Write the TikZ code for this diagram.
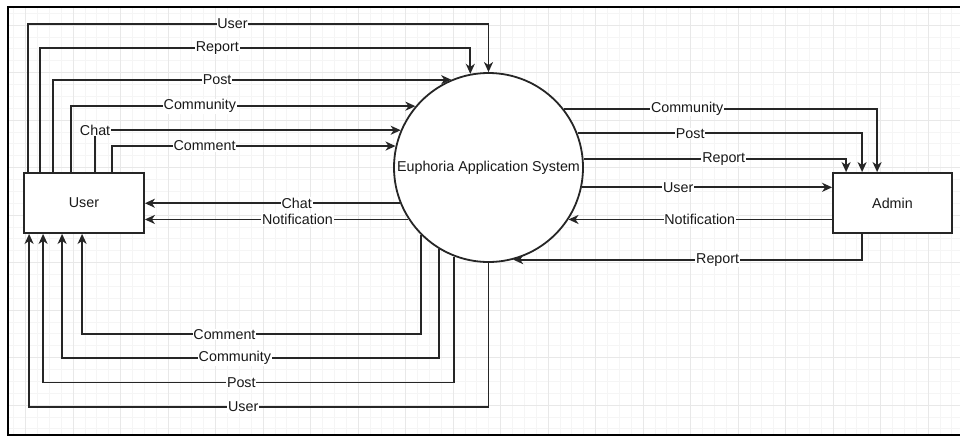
\documentclass[tikz,border=0pt]{standalone}
\usepackage{fontspec}
\setmainfont{Liberation Sans}
\usetikzlibrary{arrows.meta,calc}
\begin{document}
\begin{tikzpicture}[x=1pt,y=-1pt,
  line/.style={draw=black!85, line width=1.8pt},
  arr/.style={line, -{Stealth[length=10pt,width=9pt,inset=3pt]}},
  lbl/.style={fill=white, inner sep=0.8pt, font=\fontsize{14.3}{16}\selectfont, text=black!90},
  box/.style={draw=black!85, line width=1.8pt, fill=white, minimum width=120pt, minimum height=60pt, font=\fontsize{14.3}{16}\selectfont, text=black!90, inner sep=0pt},
  proc/.style={circle, draw=black!85, line width=1.8pt, fill=white, minimum size=189pt, inner sep=0pt, font=\fontsize{14.3}{17}\selectfont, text=black!90},
  minor/.style={draw=black!4, line width=0.7pt},
  major/.style={draw=black!9, line width=1pt}]
\useasboundingbox (0,0) rectangle (960,437);
\fill[white] (0,0) rectangle (960,437);
% grid
\begin{scope}
\clip (7.5,6.5) rectangle (960,434.5);
\foreach \k in {0,...,80} \draw[minor] ({1.75+11.875*\k},0) -- ++(0,437);
\foreach \k in {0,...,37} \draw[minor] (0,{1.25+11.875*\k}) -- ++(960,0);
\foreach \k in {0,...,20} \draw[major] ({25.5+47.5*\k},0) -- ++(0,437);
\foreach \k in {0,...,9} \draw[major] (0,{25+47.5*\k}) -- ++(960,0);
\end{scope}
\draw[line width=2pt, black] (960,6.5) -- (7.5,6.5) -- (7.5,434.5) -- (960,434.5);

% nodes
\node[box] (user) at (84,203) {User};
\node[box, minimum width=119pt] (admin) at (892.5,203) {Admin};
\node[proc] (sys) at (488.5,167.5) {Euphoria Application System};

% User -> System (top)
\draw[arr] ([xshift=5pt]user.north west) |- node[lbl,pos=0.722]{User} ([yshift=48pt]sys.north) -- (sys.north);
\draw[arr] ([xshift=17pt]user.north west) |- node[lbl,pos=0.706]{Report} ([yshift=25.8pt]sys.101.3) -- (sys.101.3);
\draw[arr] ([xshift=30pt]user.north west) |- node[lbl,pos=0.706]{Post} (sys.113.75);
\draw[arr] ([xshift=48pt]user.north west) |- node[lbl,pos=0.687]{Community} (sys.140.98);
\draw[arr] ([xshift=72pt]user.north west) |- node[lbl,pos=0.5]{Chat} (sys.157.93);
\draw[arr] ([xshift=89pt]user.north west) |- node[lbl,pos=0.663]{Comment} (sys.167.47);

% System -> User (side)
\draw[arr] (sys.202.07) -- node[lbl,pos=0.405]{Chat} (sys.202.07 -| user.east);
\draw[arr] (sys.213.75) -- node[lbl,pos=0.421]{Notification} (sys.213.75 -| user.east);

% System -> User (bottom)
\draw[arr] (sys.225.28) -- ++(0,99.4) -| node[lbl,pos=0.29]{Comment} ([xshift=59pt]user.south west);
\draw[arr] (sys.239.82) -- ++(0,109) -| node[lbl,pos=0.271]{Community} ([xshift=39pt]user.south west);
\draw[arr] (sys.249.24) -- ++(0,126) -| node[lbl,pos=0.259]{Post} ([xshift=20pt]user.south west);
\draw[arr] (sys.south) -- ++(0,144) -| node[lbl,pos=0.267]{User} ([xshift=6pt]user.south west);

% System <-> Admin
\draw[arr] (sys.38.25) -| node[lbl,pos=0.197]{Community} ([xshift=45pt]admin.north west);
\draw[arr] (sys.21.41) -| node[lbl,pos=0.198]{Post} ([xshift=30pt]admin.north west);
\draw[arr] (sys.5.16) -| node[lbl,pos=0.267]{Report} ([xshift=14pt]admin.north west);
\draw[arr] (sys.-12.53) -- node[lbl,pos=0.385]{User} (sys.-12.53 -| admin.west);
\draw[arr] (sys.-33.02 -| admin.west) -- node[lbl,pos=0.502]{Notification} (sys.-33.02);
\draw[arr] ([xshift=30pt]admin.south west) |- node[lbl,pos=0.707]{Report} (sys.-75.5);
\end{tikzpicture}
\end{document}
